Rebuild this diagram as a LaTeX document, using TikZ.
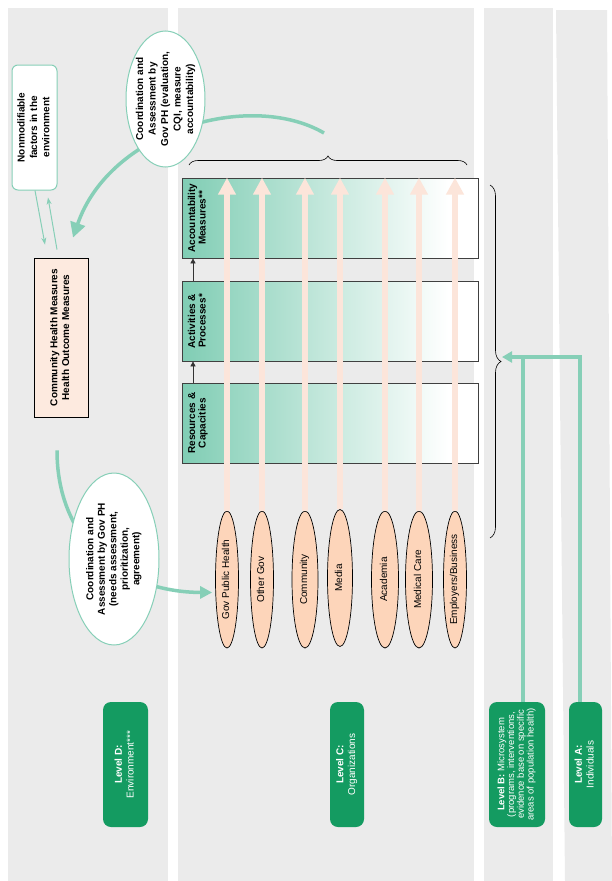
\documentclass[tikz,border=0pt]{standalone}
\usepackage{fontspec}
\setmainfont{Liberation Sans}
\usetikzlibrary{shapes.geometric,arrows.meta,decorations.pathreplacing,calc}
\definecolor{panel}{HTML}{EBEBEB}
\definecolor{lgreen}{HTML}{86CFB7}
\definecolor{dgreen}{HTML}{149B61}
\definecolor{peach}{HTML}{FDD5BA}
\definecolor{peachl}{HTML}{FDEADF}
\definecolor{peacharrow}{HTML}{FCE5DA}
\definecolor{stgreen}{HTML}{80CDB4}
\pgfdeclarehorizontalshading{stagesh}{100bp}{color(0bp)=(stgreen); color(25bp)=(stgreen); color(70bp)=(white); color(100bp)=(white)}
\newcommand\rtext[3][11pt]{\rotatebox{90}{\fontsize{10pt}{#1}\selectfont #2\begin{tabular}{@{}c@{}}#3\end{tabular}}}
\begin{document}
\begin{tikzpicture}[x=1pt,y=-1pt,
  gline/.style={draw=lgreen, line width=3.5pt},
  stagebox/.style={draw=black!75, line width=0.7pt, shading=stagesh, minimum width=296pt, minimum height=80pt, inner sep=0},
  orgoval/.style={ellipse, draw=black, fill=peach, line width=0.7pt, minimum height=137pt, inner sep=0},
  peachup/.style={draw=peacharrow, line width=6pt, -{Triangle[length=17pt,width=17pt]}},
  lvlbox/.style={fill=dgreen, rounded corners=8pt, minimum height=125pt, text=white, inner sep=0},
  bubble/.style={ellipse, draw=lgreen, fill=white, line width=1pt, inner sep=0},
  thinarr/.style={draw=lgreen, line width=1pt, -{Stealth[length=7pt,width=5pt]}},
  blackarr/.style={draw=black!80, line width=0.7pt, -{Triangle[length=5pt,width=5pt]}},
  bracestyle/.style={draw=black, line width=0.6pt, decorate},
]
\useasboundingbox (0,0) rectangle (612,881);
% panels
\fill[panel] (8,8) rectangle (167.5,881);
\fill[panel] (178,8) rectangle (474,881);
\fill[panel] (484,8) rectangle (553,881);
\fill[panel] (556,10) -- (607,10) -- (612,881) -- (565,881) -- cycle;

% level D content
\node[draw=lgreen, line width=1pt, fill=white, rounded corners=6pt, minimum width=45pt, minimum height=125pt, inner sep=0] (NM) at (34.5,127.5)
  {\rtext[12.5pt]{\bfseries}{Nonmodifiable\\factors in the\\environment}};
\node[draw=black, line width=0.8pt, fill=peachl, minimum width=54pt, minimum height=159pt, inner sep=0] (CH) at (61,337.5)
  {\rtext[11.7pt]{\bfseries}{Community Health Measures\\Health Outcome Measures}};
\draw[thinarr] ($(NM.south)+(0.5,0)$) -- ($(CH.north)+(-16,-13)$);
\draw[thinarr] ($(CH.north)+(-4,-8)$) -- ($(NM.south)+(13.5,7)$);

% organizations
\node[orgoval, minimum width=23pt] (gph) at (227,579.5) {\rtext{}{Gov Public Health}};
\node[orgoval, minimum width=23pt] (ogov) at (262,579.5) {\rtext{}{Other Gov}};
\node[orgoval, minimum width=26pt] (comm) at (305,579.5) {\rtext{}{Community}};
\node[orgoval, minimum width=25pt] (media) at (340,578) {\rtext{}{Media}};
\node[orgoval, minimum width=27pt] (acad) at (385,579.5) {\rtext{}{Academia}};
\node[orgoval, minimum width=27pt] (medc) at (419,579.5) {\rtext{}{Medical Care}};
\node[orgoval, minimum width=23pt] (empl) at (455,579.5) {\rtext{}{Employers/Business}};

% big arcs
\coordinate (arcA) at (324,133);
\draw[gline, -{Triangle[length=15pt,width=15pt]}] (arcA) .. controls (250,90) and (110,130) .. ($(CH.north)+(12,-20)$);
\draw[gline, -{Triangle[length=12pt,width=12pt]}] ($(CH.south)+(-4,33)$) .. controls (57,540) and (120,592) .. ($(gph.west)+(-3,13)$);

% bubbles
\node[bubble, minimum width=79pt, minimum height=136pt, label={center:\rtext[12.5pt]{\bfseries}{Coordination and\\Assessment by\\Gov PH (evaluation,\\CQI, measure\\accountability)}}] (topE) at (165.5,99) {};
\node[bubble, minimum width=90pt, minimum height=172pt, label={center:\rtext[11.5pt]{\bfseries}{Coordination and\\Assessment by Gov PH\\(needs assessment,\\prioritization,\\agreement)}}] (botE) at (114,559) {};

% stage boxes
\node[stagebox, label={[anchor=west, inner sep=0, xshift=6pt]west:\rtext[10.5pt]{\bfseries}{Accountability\\Measures**}}] (acc) at (330,218) {};
\node[stagebox, label={[anchor=west, inner sep=0, xshift=6pt]west:\rtext[10.5pt]{\bfseries}{Activities \&\\Processes*}}] (act) at (330,321) {};
\node[stagebox, label={[anchor=west, inner sep=0, xshift=6pt]west:\rtext[10.5pt]{\bfseries}{Resources \&\\Capacities}}] (res) at (330,423) {};
\coordinate (sx) at (193,0);
\draw[blackarr] (res.north -| sx) -- (act.south -| sx);
\draw[blackarr] (act.north -| sx) -- (acc.south -| sx);

% peach arrows
\foreach \o in {gph,ogov,comm,media,acad,medc,empl}
  \draw[peachup] (\o.north) -- (\o.north |- acc.north);

% braces
\coordinate (brL) at (189,165);
\coordinate (brR) at (467,165);
\draw[bracestyle, decoration={brace, amplitude=9pt}] (brL) -- (brR);
\coordinate (brT) at (490,185);
\coordinate (brB) at (490,538);
\draw[bracestyle, decoration={brace, amplitude=11pt}] (brT) -- (brB);
\coordinate (btip) at (502,357);

% level boxes
\node[lvlbox, minimum width=45pt] (LD) at (125.5,764.5) {\rtext[11.7pt]{}{\textbf{Level D:}\\Environment***}};
\node[lvlbox, minimum width=34pt] (LC) at (347,764.5) {\rtext[11.7pt]{}{\textbf{Level C:}\\Organizations}};
\node[lvlbox, minimum width=56pt] (LB) at (517,764.5) {\rtext[9.6pt]{\fontsize{9.5pt}{9.6pt}\selectfont}{\textbf{Level B:} Microsystem\\(programs, interventions,\\evidence base on specific\\areas of population health)}};
\node[lvlbox, minimum width=33pt] (LA) at (585.5,764.5) {\rtext[11.7pt]{}{\textbf{Level A:}\\Individuals}};

% green connectors
\coordinate (lat) at ([xshift=-5.5pt]LA.north);
\coordinate (lbt) at ([xshift=6pt]LB.north);
\draw[gline, -{Triangle[length=10pt,width=11pt]}] (lat) |- (btip);
\draw[gline] (lbt) -- (lbt |- btip);
\end{tikzpicture}
\end{document}
